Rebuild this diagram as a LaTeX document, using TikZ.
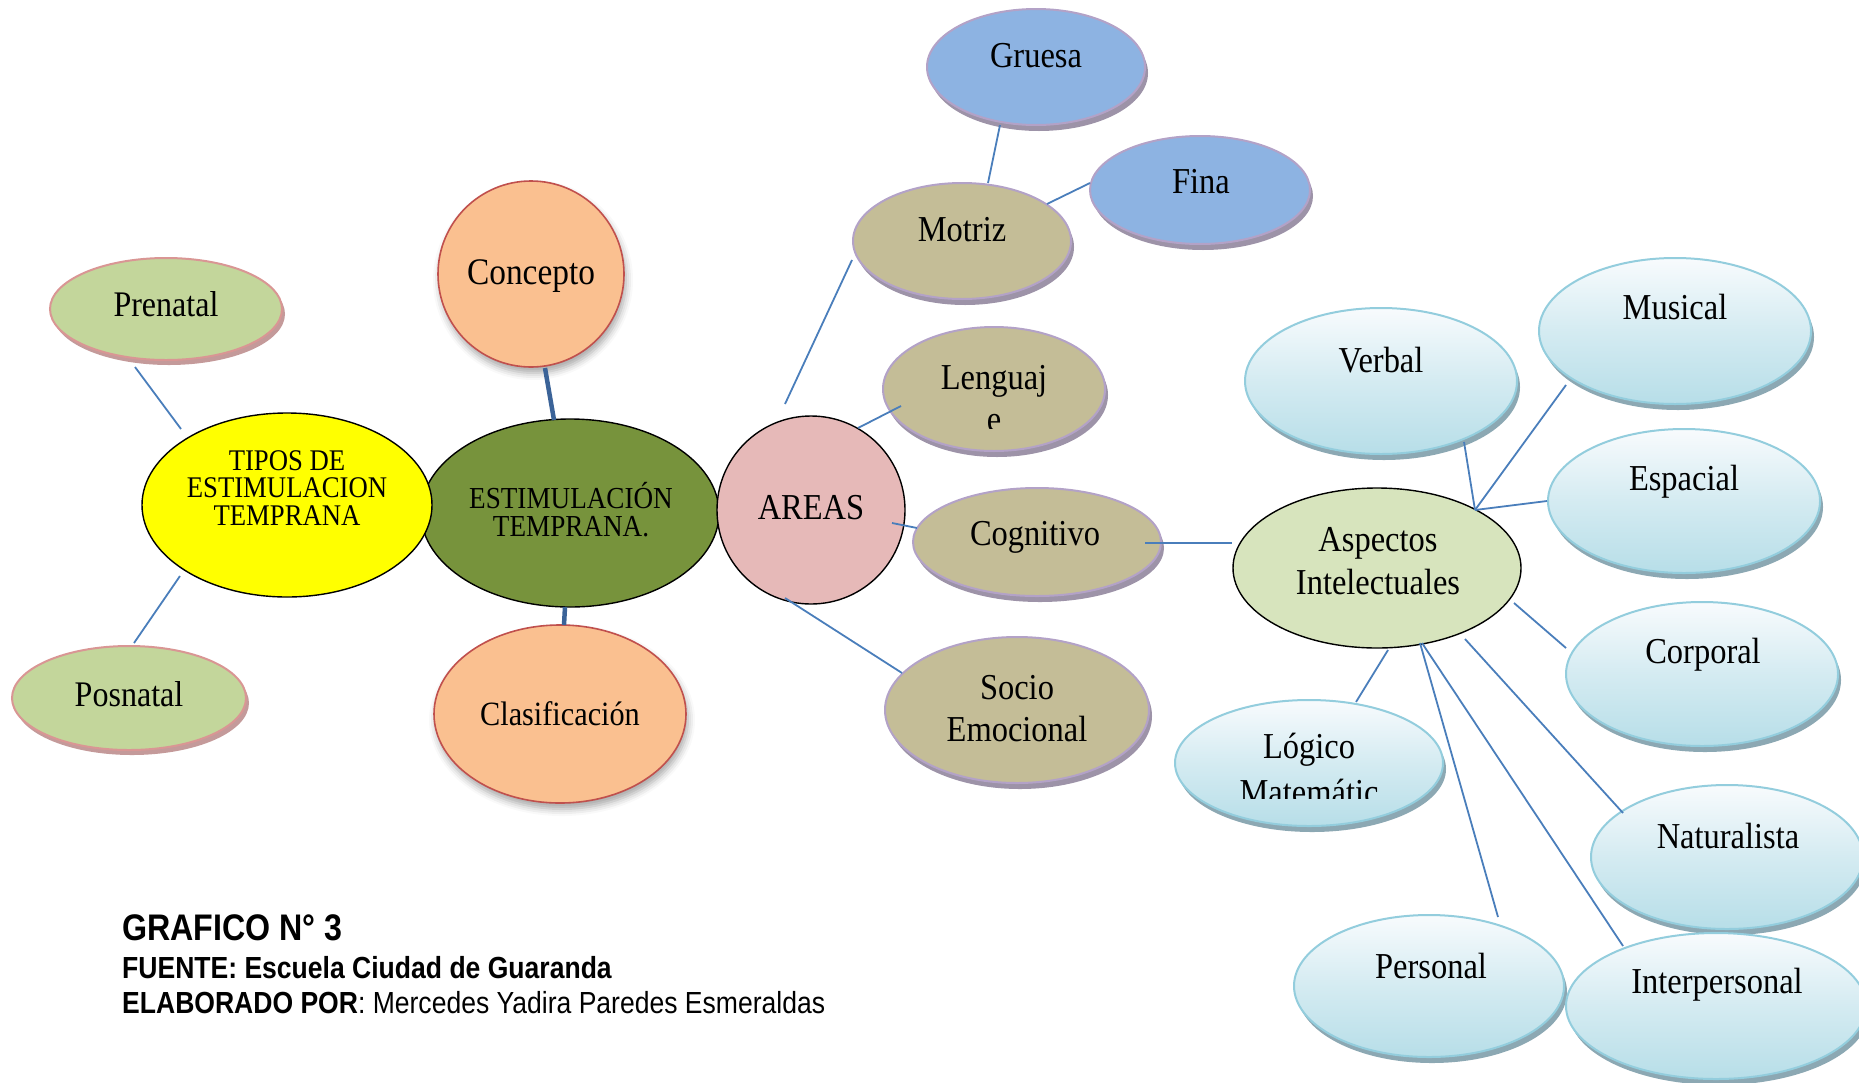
\documentclass[tikz,border=0pt]{standalone}
\usepackage{fontspec}
\setmainfont{Liberation Serif}[FakeStretch=0.89]
\setsansfont{Liberation Sans}[FakeStretch=0.87]
\usetikzlibrary{shapes.geometric,shadows,shadows.blur}
\definecolor{lnblue}{HTML}{4A7EBB}
\definecolor{thkblue}{HTML}{3B6398}
\definecolor{prefill}{HTML}{C3D69B}
\definecolor{pinkborder}{HTML}{D99694}
\definecolor{pinkshadow}{HTML}{C49A9A}
\definecolor{yellowfill}{HTML}{FFFF00}
\definecolor{olivefill}{HTML}{77933C}
\definecolor{rosefill}{HTML}{E6B9B8}
\definecolor{peachfill}{HTML}{FAC090}
\definecolor{redborder}{HTML}{C0504D}
\definecolor{skyfill}{HTML}{8DB3E2}
\definecolor{lilacborder}{HTML}{B3A2C7}
\definecolor{lilacshadow}{HTML}{9D93A8}
\definecolor{khakifill}{HTML}{C4BD97}
\definecolor{palegreen}{HTML}{D7E4BD}
\definecolor{cyanborder}{HTML}{93CDDD}
\definecolor{cyantop}{HTML}{F8FBFD}
\definecolor{cyanbottom}{HTML}{B7DEE8}
\definecolor{cyanshadow}{HTML}{8CA8B3}
\begin{document}
\begin{tikzpicture}[x=1pt,y=-1pt,
  sz/.style 2 args={minimum width=2*#1, minimum height=2*#2},
  bub/.style={ellipse, inner sep=0pt, line width=2pt},
  plainbub/.style={bub, draw=black, line width=1.4pt},
  prebub/.style={bub, fill=prefill, draw=pinkborder,
     general shadow={fill=pinkshadow, shadow xshift=3pt, shadow yshift=-5pt}},
  peachbub/.style={bub, fill=peachfill, draw=redborder, line width=1.6pt,
     blur shadow={shadow xshift=2pt, shadow yshift=-6pt, shadow blur radius=7pt, shadow opacity=35}},
  skybub/.style={bub, fill=skyfill, draw=lilacborder,
     general shadow={fill=lilacshadow, shadow xshift=3pt, shadow yshift=-6pt}},
  khakibub/.style={bub, fill=khakifill, draw=lilacborder,
     general shadow={fill=lilacshadow, shadow xshift=3pt, shadow yshift=-6pt}},
  cyanbub/.style={bub, top color=cyantop, bottom color=cyanbottom, middle color=cyantop!45!cyanbottom, draw=cyanborder,
     general shadow={fill=cyanshadow, shadow xshift=3pt, shadow yshift=-6pt}},
  lbl/.style={inner sep=0pt, font=\fontsize{36.5}{41}\selectfont, align=center, anchor=base},
  mlbl/.style={lbl, anchor=center},
  conn/.style={draw=lnblue, line width=1.8pt},
  thick conn/.style={draw=thkblue, line width=4.5pt},
  foot/.style={inner sep=0pt, anchor=base west, font=\sffamily\fontsize{30.5}{34}\selectfont}
]
\useasboundingbox (0,0) rectangle (1859,1082);
\clip (0,0) rectangle (1859,1082);

% ---- left group
\node[prebub, sz={116}{51}] (pre) at (166,309) {};
\node[lbl, font=\fontsize{36}{41}\selectfont] (preT) at (166,316) {Prenatal};
\node[prebub, sz={117}{52}] (pos) at (129,698) {};
\node[lbl, font=\fontsize{36}{41}\selectfont] (posT) at (129,706) {Posnatal};

\node[plainbub, fill=olivefill, sz={149}{94}] (est) at (570,513) {};
\node[plainbub, fill=yellowfill, sz={145}{92}] (tip) at (287,505) {};
\node[plainbub, fill=rosefill, sz={94}{94}] (are) at (811,510) {};
\node[mlbl, font=\fontsize{30}{27.5}\selectfont] (tipT) at (287,488) {TIPOS DE\\ESTIMULACION\\TEMPRANA};
\node[mlbl, font=\fontsize{30.5}{28}\selectfont] (estT) at (571,510) {ESTIMULACIÓN\\TEMPRANA.};
\node[lbl] (areT) at (811,519) {AREAS};

\node[peachbub, sz={93}{93}] (con) at (531,274) {};
\node[lbl, font=\fontsize{37.5}{41}\selectfont] (conT) at (531,284) {Concepto};
\node[peachbub, sz={126}{89}] (cla) at (560,714) {};
\node[lbl, font=\fontsize{34}{41}\selectfont] (claT) at (560,725) {Clasificación};

% ---- areas
\node[skybub, sz={109}{58}] (gru) at (1036,67) {};
\node[lbl] (gruT) at (1036,67) {Gruesa};
\node[skybub, sz={110}{54}] (fin) at (1200,190) {};
\node[lbl] (finT) at (1201,193) {Fina};
\node[khakibub, sz={109}{58}] (mot) at (962,241) {};
\node[lbl] (motT) at (962,241) {Motriz};
\node[khakibub, sz={111}{62}] (len) at (994,389) {};
\begin{scope}
  \clip (880,300) rectangle (1110,428);
  \node[mlbl, font=\fontsize{36.5}{42}\selectfont] (lenT) at (994,399) {Lenguaj\\e};
\end{scope}
\node[khakibub, sz={124}{54}] (cog) at (1037,542) {};
\node[lbl] (cogT) at (1035,545) {Cognitivo};
\node[khakibub, sz={132}{73}] (soc) at (1017,710) {};
\node[mlbl, font=\fontsize{36.5}{42}\selectfont] (socT) at (1017,709) {Socio\\Emocional};

% ---- intelligences
\node[plainbub, fill=palegreen, sz={144}{80}] (asp) at (1377,568) {};
\node[mlbl, font=\fontsize{36.5}{43}\selectfont] (aspT) at (1378,561) {Aspectos\\Intelectuales};
\node[cyanbub, sz={136}{73}] (ver) at (1381,381) {};
\node[lbl] (verT) at (1381,372) {Verbal};
\node[cyanbub, sz={136}{73}] (mus) at (1675,331) {};
\node[lbl] (musT) at (1675,319) {Musical};
\node[cyanbub, sz={136}{72}] (esp) at (1684,501) {};
\node[lbl] (espT) at (1684,490) {Espacial};
\node[cyanbub, sz={136}{72}] (cor) at (1702,674) {};
\node[lbl] (corT) at (1703,663) {Corporal};
\node[cyanbub, sz={134}{63}] (log) at (1309,763) {};
\begin{scope}
  \clip (1170,690) rectangle (1450,798);
  \node[mlbl, font=\fontsize{36.5}{46}\selectfont] (logT) at (1309,769) {Lógico\\Matemátic};
\end{scope}
\node[cyanbub, sz={136}{72}] (nat) at (1727,857) {};
\node[lbl] (natT) at (1728,848) {Naturalista};
\node[cyanbub, sz={135}{71}] (per) at (1429,986) {};
\node[lbl] (perT) at (1431,978) {Personal};
\node[cyanbub, sz={150}{73}] (int) at (1716,1006) {};
\node[lbl] (intT) at (1717,993) {Interpersonal};

% ---- connectors
\draw[conn] ([shift={(-31,58)}]pre.center) -- ([shift={(-106,-76)}]tip.center);
\draw[conn] ([shift={(5,-55)}]pos.center) -- ([shift={(-107,71)}]tip.center);
\draw[thick conn] ([shift={(14,94)}]con.center) -- ([shift={(-16,-93)}]est.center);
\draw[thick conn] ([shift={(-5,94)}]est.center) -- ([shift={(4,-89)}]cla.center);
\draw[conn] ([shift={(-26,-106)}]are.center) -- ([shift={(-110,19)}]mot.center);
\draw[conn] ([shift={(47,-82)}]are.center) -- ([shift={(-93,17)}]len.center);
\draw[conn] ([shift={(81,13)}]are.center) -- ([shift={(-120,-14)}]cog.center);
\draw[conn] ([shift={(-26,88)}]are.center) -- ([shift={(-115,-37)}]soc.center);
\draw[conn] ([shift={(108,1)}]cog.center) -- ([shift={(-145,-25)}]asp.center);
\draw[conn] ([shift={(26,-58)}]mot.center) -- ([shift={(-36,58)}]gru.center);
\draw[conn] ([shift={(85,-37)}]mot.center) -- ([shift={(-110,-7)}]fin.center);
\draw[conn] ([shift={(98,-58)}]asp.center) -- ([shift={(83,61)}]ver.center);
\draw[conn] ([shift={(98,-58)}]asp.center) -- ([shift={(-109,54)}]mus.center);
\draw[conn] ([shift={(98,-58)}]asp.center) -- ([shift={(-137,0)}]esp.center);
\draw[conn] ([shift={(137,35)}]asp.center) -- ([shift={(-136,-26)}]cor.center);
\draw[conn] ([shift={(11,82)}]asp.center) -- ([shift={(47,-61)}]log.center);
\draw[conn] ([shift={(43,75)}]asp.center) -- ([shift={(69,-69)}]per.center);
\draw[conn] ([shift={(45,75)}]asp.center) -- ([shift={(-93,-60)}]int.center);
\draw[conn] ([shift={(88,71)}]asp.center) -- ([shift={(-104,-44)}]nat.center);

% ---- footer
\node[foot, font=\sffamily\bfseries\fontsize{37}{40}\selectfont] (graf) at (122,940) {GRAFICO N° 3};
\node[foot] (fuente) at (122,978) {\textbf{FUENTE: Escuela Ciudad de Guaranda}};
\node[foot] (elab) at (122,1013) {\textbf{ELABORADO POR}: Mercedes Yadira Paredes Esmeraldas};
\end{tikzpicture}
\end{document}
